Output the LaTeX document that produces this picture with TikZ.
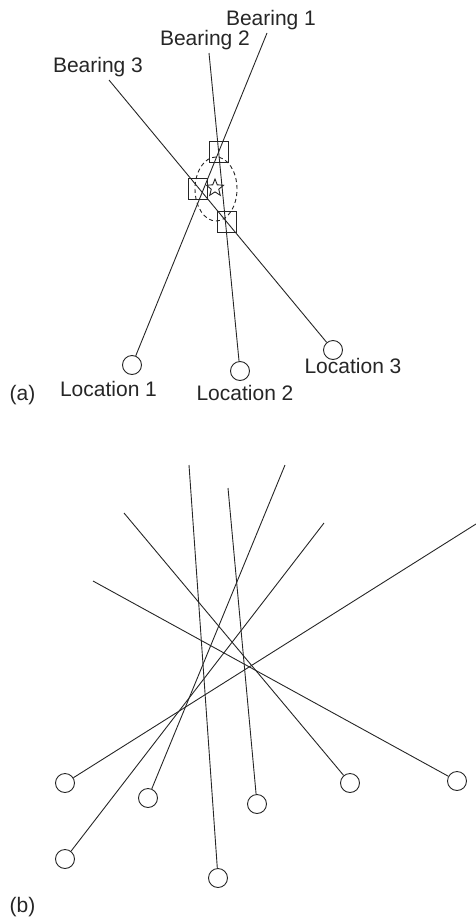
\documentclass[tikz,border=0pt]{standalone}
\usepackage{fontspec}
\setmainfont{Liberation Sans}
\usetikzlibrary{shapes.geometric}
\begin{document}
\begin{tikzpicture}[x=1pt,y=-1pt,
  ln/.style={line width=0.9pt,black!85},
  loc/.style={circle,draw,line width=0.9pt,black!85,minimum size=19pt,inner sep=0pt},
  sq/.style={rectangle,draw,line width=0.9pt,black!85,minimum width=19pt,minimum height=21pt,inner sep=0pt},
  lbl/.style={anchor=base,font=\fontsize{21}{25}\selectfont,text=black!85,inner sep=0pt}]
\useasboundingbox (0,0) rectangle (476,918);
% ---------- (a) ----------
\node[loc] (L1) at (132,365) {};
\node[loc] (L2) at (240,371) {};
\node[loc] (L3) at (333,350) {};
\coordinate (B1) at (267,33);
\coordinate (B2) at (209,53);
\coordinate (B3) at (109,80);
\draw[ln] (L1) -- (B1);
\draw[ln] (L2) -- (B2);
\draw[ln] (L3) -- (B3);
\node[sq] (S1) at (219,152) {};
\node[sq] (S2) at (198,189) {};
\node[sq] (S3) at (227,222) {};
\node[star,star points=5,star point ratio=2.3,minimum size=18pt,inner sep=0pt,draw,line width=0.9pt,black!85] (ST) at (215,188) {};
\node[ellipse,draw,dashed,dash pattern=on 4pt off 3pt,line width=0.9pt,black!85,minimum width=42pt,minimum height=64pt,inner sep=0pt] (EL) at (216,189) {};
\node[lbl] (tB1) at (271,25) {Bearing 1};
\node[lbl] (tB2) at (205,45.5) {Bearing 2};
\node[lbl] (tB3) at (98,72.5) {Bearing 3};
\node[lbl] (tL1) at (108.5,396.5) {Location 1};
\node[lbl] (tL2) at (245,400) {Location 2};
\node[lbl] (tL3) at (353,373.5) {Location 3};
\node[lbl] (ta) at (22.5,400) {(a)};
% ---------- (b) ----------
\node[loc] (C1) at (65,783) {};
\node[loc] (C2) at (148,798) {};
\node[loc] (C3) at (257,804) {};
\node[loc] (C4) at (350,783) {};
\node[loc] (C5) at (457,781) {};
\node[loc] (C6) at (65,859) {};
\node[loc] (C7) at (218,878) {};
\coordinate (E1) at (476,524);
\coordinate (E2) at (285,465);
\coordinate (E3) at (228,488);
\coordinate (E4) at (124,513);
\coordinate (E5) at (93,581);
\coordinate (E6) at (324,523);
\coordinate (E7) at (189,465);
\draw[ln] (C1) -- (E1);
\draw[ln] (C2) -- (E2);
\draw[ln] (C3) -- (E3);
\draw[ln] (C4) -- (E4);
\draw[ln] (C5) -- (E5);
\draw[ln] (C6) -- (E6);
\draw[ln] (C7) -- (E7);
\node[lbl] (tb) at (22.5,912.5) {(b)};
\end{tikzpicture}
\end{document}
